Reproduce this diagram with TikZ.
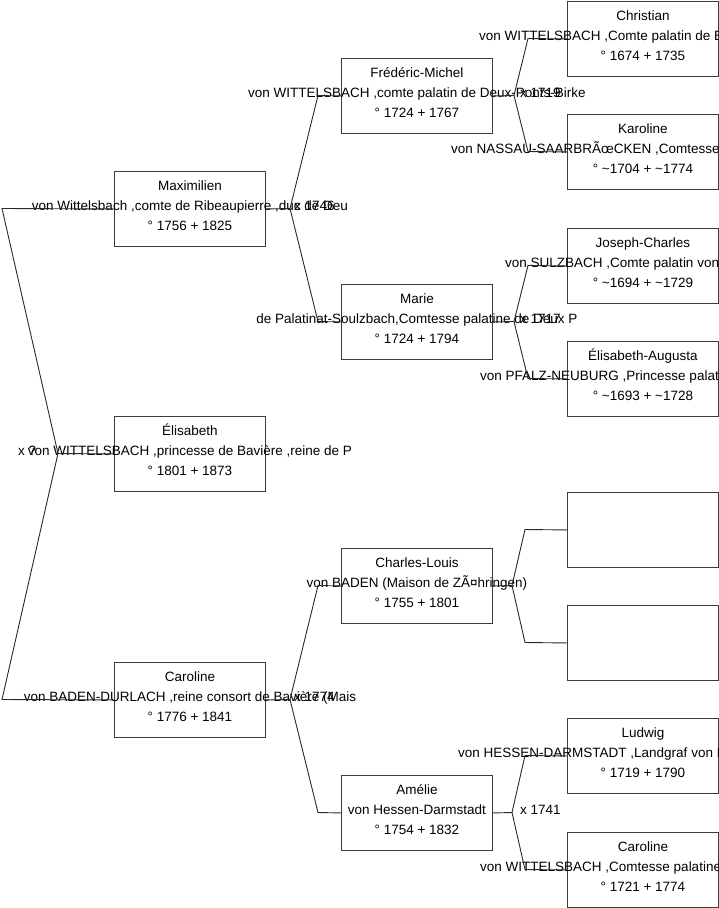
\documentclass[tikz,border=0pt]{standalone}
\usepackage{fontspec}
\setmainfont{Liberation Sans}
\definecolor{boxgray}{RGB}{60,60,60}
\definecolor{linkgray}{RGB}{40,40,40}
\newcommand\pbox[6]{%
  \node[person] (#1) at (#2,#3) {};
  \path (#1.center) ++(0,-18) node[txt] (#1-a) {#4};
  \path (#1.center) ++(0,2) node[txt] (#1-b) {#5};
  \path (#1.center) ++(0,22) node[txt] (#1-c) {#6};
}
\newcommand\pboxw[7]{%
  \node[person] (#1) at (#2,#3) {};
  \path (#1.center) ++(0,-18) node[txt] (#1-a) {#4};
  \node[txtw] (#1-b) at (#7,{#3+39.5}) {#5};
  \path (#1.center) ++(0,22) node[txt] (#1-c) {#6};
}
\begin{document}
\begin{tikzpicture}[x=1pt,y=-1pt,
  person/.style={draw=boxgray, line width=0.9pt, minimum width=151pt, minimum height=75pt, inner sep=0pt, anchor=north west},
  txt/.style={font=\fontsize{13.5}{16}\selectfont, text=black, inner sep=0pt, anchor=base},
  txtw/.style={txt, anchor=base west},
  link/.style={draw=linkgray, line width=0.9pt},
]
\useasboundingbox (0,0) rectangle (719,908);
\clip (0,0) rectangle (719,908);

% level 1
\pbox{maxi}{114}{171}{Maximilien}{von Wittelsbach ,comte de Ribeaupierre ,duc de Deu}{° 1756 + 1825}
\pbox{elis}{114}{416}{Élisabeth}{von WITTELSBACH ,princesse de Bavière ,reine de P}{° 1801 + 1873}
\pbox{caro}{114}{662}{Caroline}{von BADEN-DURLACH ,reine consort de Bavière (Mais}{° 1776 + 1841}

% level 2
\pbox{fred}{341}{58}{Frédéric-Michel}{von WITTELSBACH ,comte palatin de Deux-Ponts-Birke}{° 1724 + 1767}
\pbox{marie}{341}{284}{Marie}{de Palatinat-Soulzbach,Comtesse palatine de Deux P}{° 1724 + 1794}
\pbox{charl}{341}{548}{Charles-Louis}{von BADEN (Maison de ZÃ¤hringen)}{° 1755 + 1801}
\pbox{amel}{341}{775}{Amélie}{von Hessen-Darmstadt}{° 1754 + 1832}

% level 3
\pboxw{chri}{567}{1}{Christian}{von WITTELSBACH ,Comte palatin de B}{° 1674 + 1735}{479}
\pboxw{karo}{567}{114}{Karoline}{von NASSAU-SAARBRÃœCKEN ,Comtesse}{° \textasciitilde 1704 + \textasciitilde 1774}{451}
\pboxw{jose}{567}{228}{Joseph-Charles}{von SULZBACH ,Comte palatin von}{° \textasciitilde 1694 + \textasciitilde 1729}{505}
\pboxw{elau}{567}{341}{Élisabeth-Augusta}{von PFALZ-NEUBURG ,Princesse palati}{° \textasciitilde 1693 + \textasciitilde 1728}{480}
\node[person] (empA) at (567,492) {};
\node[person] (empB) at (567,605) {};
\pboxw{ludw}{567}{718}{Ludwig}{von HESSEN-DARMSTADT ,Landgraf von H}{° 1719 + 1790}{458}
\pboxw{carw}{567}{832}{Caroline}{von WITTELSBACH ,Comtesse palatine d}{° 1721 + 1774}{480}

% forks
\coordinate (fA) at (58,453.5);
\coordinate (fA1) at (2,208.5);
\coordinate (fA2) at (2,699.5);
\coordinate (fB) at (290,208.5);
\coordinate (fB1) at (318,95.5);
\coordinate (fB2) at (318,321.5);
\coordinate (fC) at (290,699.5);
\coordinate (fC1) at (318,585.5);
\coordinate (fC2) at (318,812.5);
\coordinate (fD) at (514,95.5);
\coordinate (fD1) at (528,38.5);
\coordinate (fD2) at (528,151.5);
\coordinate (fE) at (514,321.5);
\coordinate (fE1) at (528,265.5);
\coordinate (fE2) at (528,378.5);
\coordinate (fF) at (512,585.5);
\coordinate (fF1) at (525,529.5);
\coordinate (fF2) at (525,642.5);
\coordinate (fG) at (512,812.5);
\coordinate (fG1) at (525,755.5);
\coordinate (fG2) at (525,869.5);

\draw[link] (elis.west) -- (fA) -- (fA1) -- (maxi.west);
\draw[link] (fA) -- (fA2) -- (caro.west);
\draw[link] (maxi.east) -- (fB) -- (fB1) -- (fred.west);
\draw[link] (fB) -- (fB2) -- (marie.west);
\draw[link] (caro.east) -- (fC) -- (fC1) -- (charl.west);
\draw[link] (fC) -- (fC2) -- (amel.west);
\draw[link] (fred.east) -- (fD) -- (fD1) -- (chri.west);
\draw[link] (fD) -- (fD2) -- (karo.west);
\draw[link] (marie.east) -- (fE) -- (fE1) -- (jose.west);
\draw[link] (fE) -- (fE2) -- (elau.west);
\draw[link] (charl.east) -- (fF) -- (fF1) -- (empA.west);
\draw[link] (fF) -- (fF2) -- (empB.west);
\draw[link] (amel.east) -- (fG) -- (fG1) -- (ludw.west);
\draw[link] (fG) -- (fG2) -- (carw.west);

% marriage labels
\node[txtw] (mA) at (18,455.5) {x ?};
\node[txtw] (mB) at (294,210.5) {x 1746};
\node[txtw] (mC) at (294,701.5) {x 1774};
\node[txtw] (mD) at (520,97.5) {x 1719};
\node[txtw] (mE) at (520,323.5) {x 1717};
\node[txtw] (mG) at (520,814.5) {x 1741};
\end{tikzpicture}
\end{document}
